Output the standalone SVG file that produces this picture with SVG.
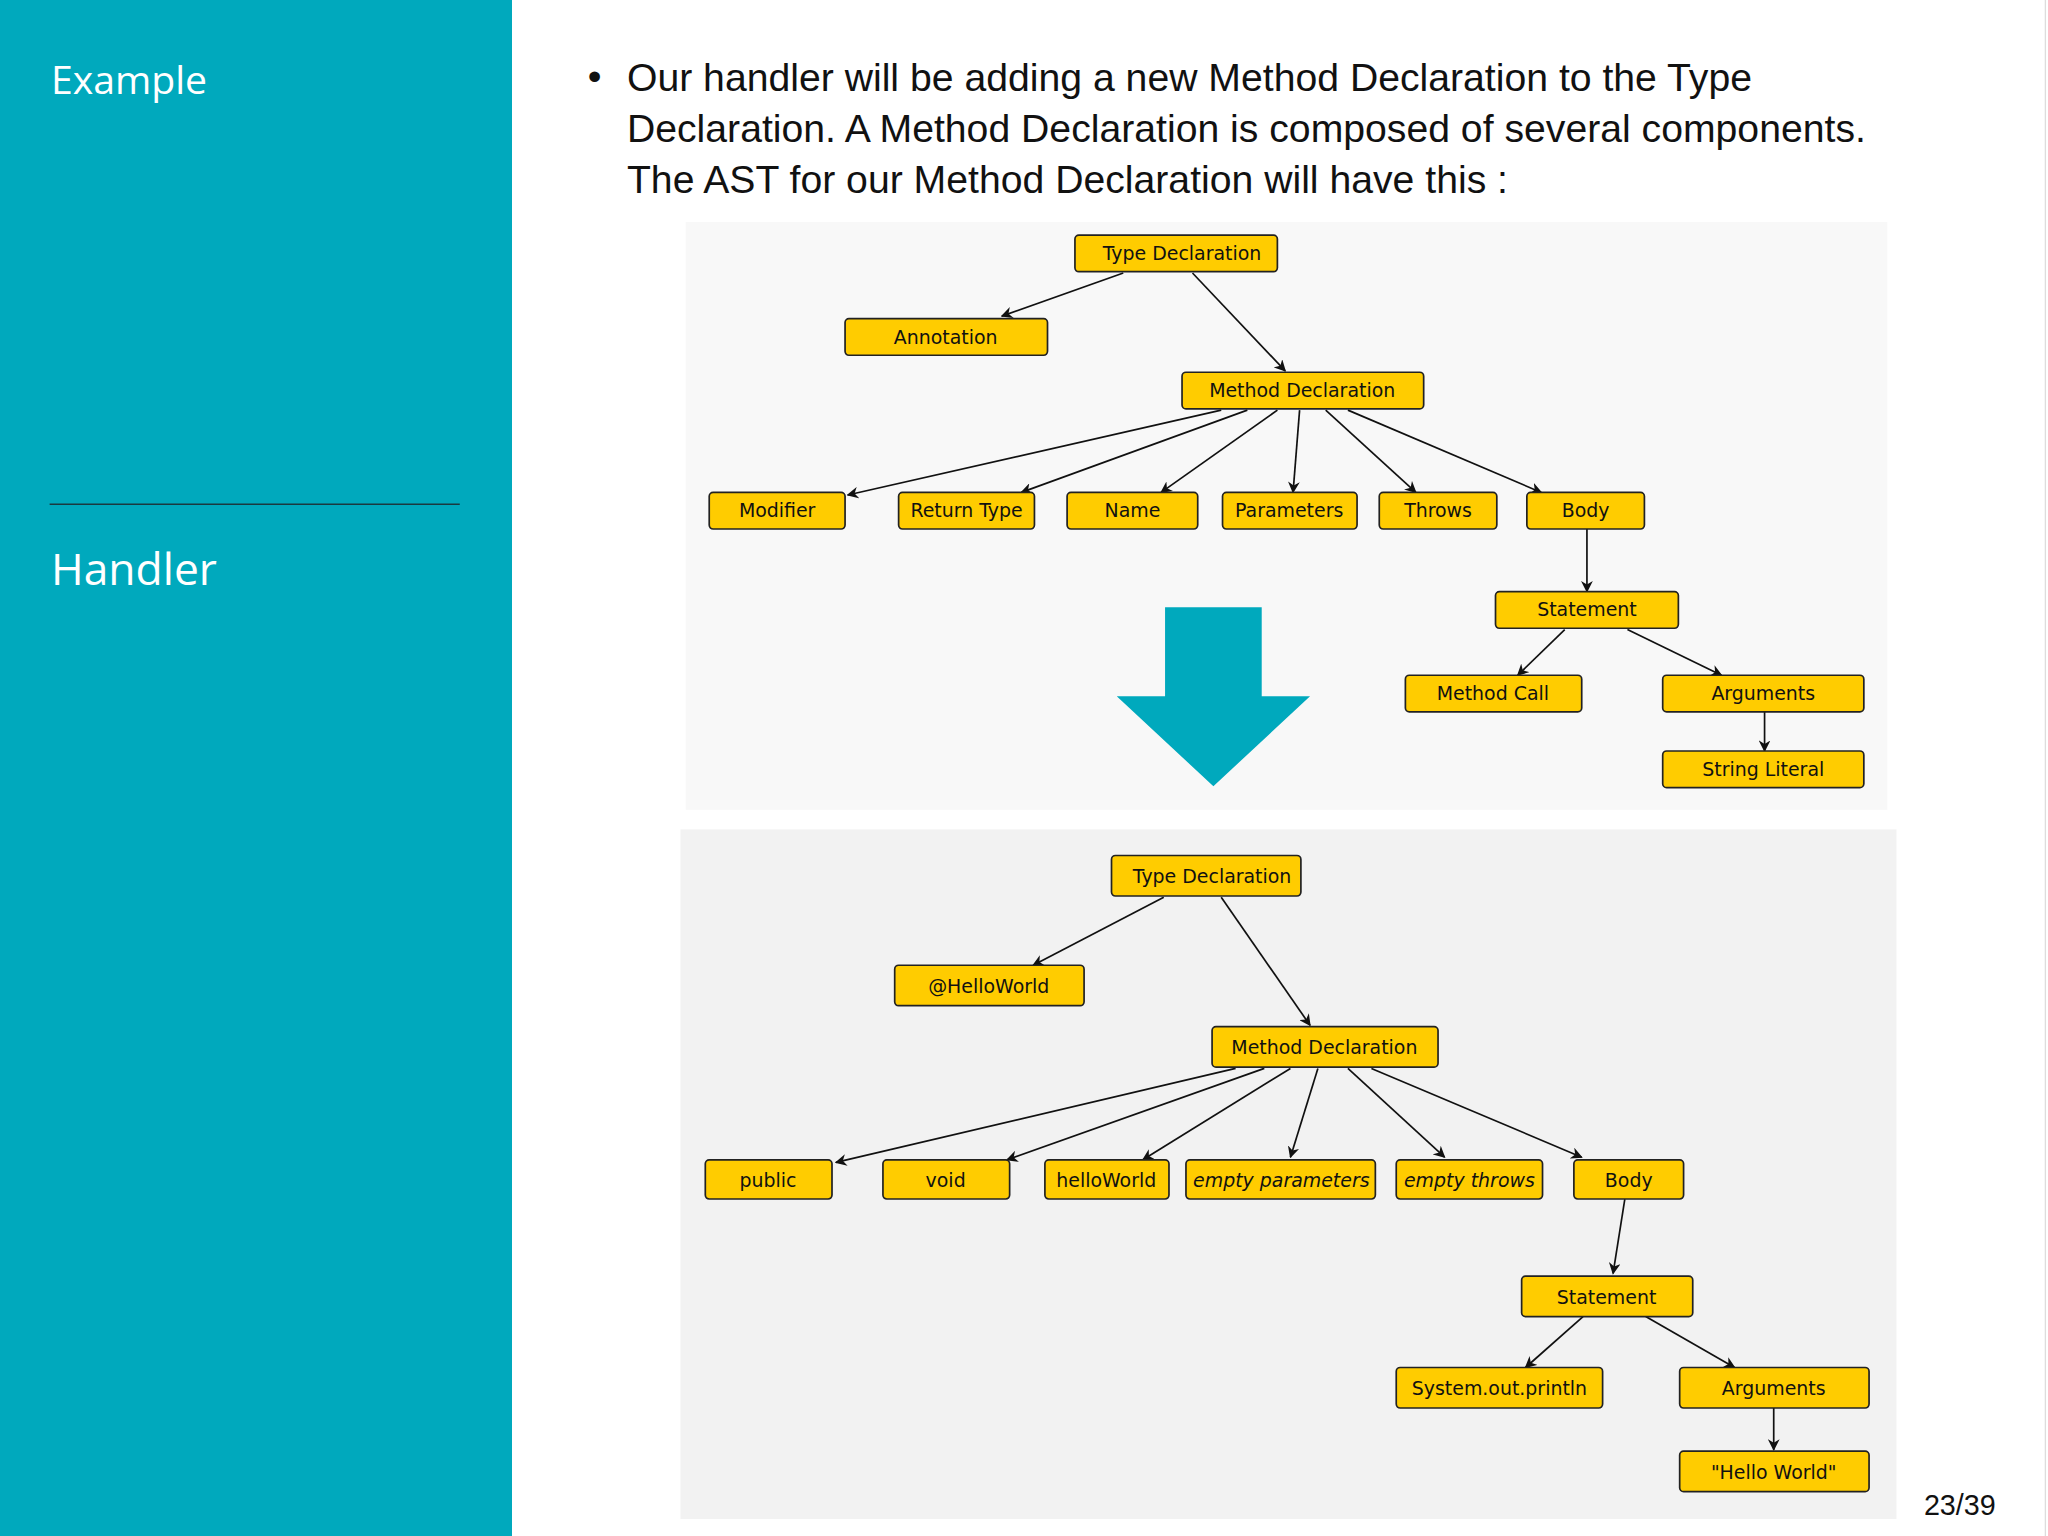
<svg xmlns="http://www.w3.org/2000/svg" width="2048" height="1536" viewBox="0 0 2048 1536">
<defs>
<style>
.n rect{fill:#FFCC00;stroke:#222;stroke-width:1.3}
.n text{font-family:"DejaVu Sans",sans-serif;font-size:14.5px;fill:#111;text-anchor:middle}
.i text{font-style:italic}
.e line{stroke:#111;stroke-width:1.3;marker-end:url(#a)}
.b{font-family:"Liberation Sans",Arial,sans-serif;font-size:30px;fill:#111}
</style>
<marker id="a" viewBox="0 0 10 10" refX="9" refY="5" markerWidth="9" markerHeight="9" orient="auto" markerUnits="userSpaceOnUse"><path d="M0,0L10,5L0,10L3,5z" fill="#111"/></marker>
</defs>
<g transform="scale(1.306122)">
<rect width="1568" height="1176" fill="#fff"/>
<rect width="392" height="1176" fill="#00A9BD"/>
<line x1="1566" y1="0" x2="1566" y2="1176" stroke="#ddd"/>
<text x="39" y="72" font-family="Open Sans,sans-serif" font-size="30" fill="#fff">Example</text>
<line x1="38" y1="386" x2="352" y2="386" stroke="#1a3a40" stroke-width="1.2"/>
<text x="39" y="448" font-family="Open Sans,sans-serif" font-size="34" fill="#fff">Handler</text>
<text x="450" y="69" class="b">•</text>
<text x="480" y="70" class="b">Our handler will be adding a new Method Declaration to the Type</text>
<text x="480" y="109" class="b">Declaration. A Method Declaration is composed of several components.</text>
<text x="480" y="148" class="b">The AST for our Method Declaration will have this :</text>
<text x="1528" y="1160" text-anchor="end" font-family="Liberation Sans,sans-serif" font-size="22" fill="#111">23/39</text>
<rect x="525" y="170" width="920" height="450" fill="#F8F8F8"/>
<rect x="521" y="635" width="931" height="528" fill="#F2F2F2"/>
<polygon points="892,465 966,465 966,533 1003,533 929,602 855,533 892,533" fill="#00A9BD"/>
<g class="e">
<line x1="860" y1="209" x2="767" y2="242"/><line x1="913" y1="209" x2="984" y2="284"/>
<line x1="935" y1="314" x2="649" y2="379"/><line x1="955" y1="314" x2="782" y2="377"/>
<line x1="978" y1="314" x2="889" y2="377"/><line x1="995" y1="314" x2="990" y2="377"/>
<line x1="1015" y1="314" x2="1084" y2="377"/><line x1="1032" y1="314" x2="1180" y2="377"/>
<line x1="1215" y1="405" x2="1215" y2="453"/><line x1="1198" y1="482" x2="1162" y2="517"/>
<line x1="1246" y1="482" x2="1318" y2="517"/><line x1="1351" y1="545" x2="1351" y2="575"/>
<line x1="891" y1="687" x2="791" y2="739"/><line x1="935" y1="687" x2="1003" y2="785"/>
<line x1="946" y1="818" x2="640" y2="890"/><line x1="968" y1="818" x2="771" y2="888"/>
<line x1="988" y1="818" x2="875" y2="888"/><line x1="1009" y1="818" x2="988" y2="886"/>
<line x1="1032" y1="818" x2="1106" y2="886"/><line x1="1050" y1="818" x2="1211" y2="886"/>
<line x1="1244" y1="918" x2="1235" y2="975"/><line x1="1212" y1="1008" x2="1168" y2="1047"/>
<line x1="1260" y1="1008" x2="1328" y2="1047"/><line x1="1358" y1="1078" x2="1358" y2="1110"/>
</g>
<g id="t1" class="n"><rect x="823" y="180" width="155" height="28" rx="3"/><text x="905" y="199">Type Declaration</text></g>
<g id="t2" class="n"><rect x="647" y="244" width="155" height="28" rx="3"/><text x="724" y="263">Annotation</text></g>
<g id="t3" class="n"><rect x="905" y="285" width="185" height="28" rx="3"/><text x="997" y="304">Method Declaration</text></g>
<g id="t4" class="n"><rect x="543" y="377" width="104" height="28" rx="3"/><text x="595" y="396">Modifier</text></g>
<g id="t5" class="n"><rect x="688" y="377" width="104" height="28" rx="3"/><text x="740" y="396">Return Type</text></g>
<g id="t6" class="n"><rect x="817" y="377" width="100" height="28" rx="3"/><text x="867" y="396">Name</text></g>
<g id="t7" class="n"><rect x="936" y="377" width="103" height="28" rx="3"/><text x="987" y="396">Parameters</text></g>
<g id="t8" class="n"><rect x="1056" y="377" width="90" height="28" rx="3"/><text x="1101" y="396">Throws</text></g>
<g id="t9" class="n"><rect x="1169" y="377" width="90" height="28" rx="3"/><text x="1214" y="396">Body</text></g>
<g id="t10" class="n"><rect x="1145" y="453" width="140" height="28" rx="3"/><text x="1215" y="472">Statement</text></g>
<g id="t11" class="n"><rect x="1076" y="517" width="135" height="28" rx="3"/><text x="1143" y="536">Method Call</text></g>
<g id="t12" class="n"><rect x="1273" y="517" width="154" height="28" rx="3"/><text x="1350" y="536">Arguments</text></g>
<g id="t13" class="n"><rect x="1273" y="575" width="154" height="28" rx="3"/><text x="1350" y="594">String Literal</text></g>
<g id="b1" class="n"><rect x="851" y="655" width="145" height="31" rx="3"/><text x="928" y="676">Type Declaration</text></g>
<g id="b2" class="n"><rect x="685" y="739" width="145" height="31" rx="3"/><text x="757" y="760">@HelloWorld</text></g>
<g id="b3" class="n"><rect x="928" y="786" width="173" height="31" rx="3"/><text x="1014" y="807">Method Declaration</text></g>
<g id="b4" class="n"><rect x="540" y="888" width="97" height="30" rx="3"/><text x="588" y="909">public</text></g>
<g id="b5" class="n"><rect x="676" y="888" width="97" height="30" rx="3"/><text x="724" y="909">void</text></g>
<g id="b6" class="n"><rect x="800" y="888" width="95" height="30" rx="3"/><text x="847" y="909">helloWorld</text></g>
<g id="b7" class="n i"><rect x="908" y="888" width="145" height="30" rx="3"/><text x="981" y="909">empty parameters</text></g>
<g id="b8" class="n i"><rect x="1069" y="888" width="112" height="30" rx="3"/><text x="1125" y="909">empty throws</text></g>
<g id="b9" class="n"><rect x="1205" y="888" width="84" height="30" rx="3"/><text x="1247" y="909">Body</text></g>
<g id="b10" class="n"><rect x="1165" y="977" width="131" height="31" rx="3"/><text x="1230" y="998">Statement</text></g>
<g id="b11" class="n"><rect x="1069" y="1047" width="158" height="31" rx="3"/><text x="1148" y="1068">System.out.println</text></g>
<g id="b12" class="n"><rect x="1286" y="1047" width="145" height="31" rx="3"/><text x="1358" y="1068">Arguments</text></g>
<g id="b13" class="n"><rect x="1286" y="1111" width="145" height="31" rx="3"/><text x="1358" y="1132">"Hello World"</text></g>
</g>
</svg>
